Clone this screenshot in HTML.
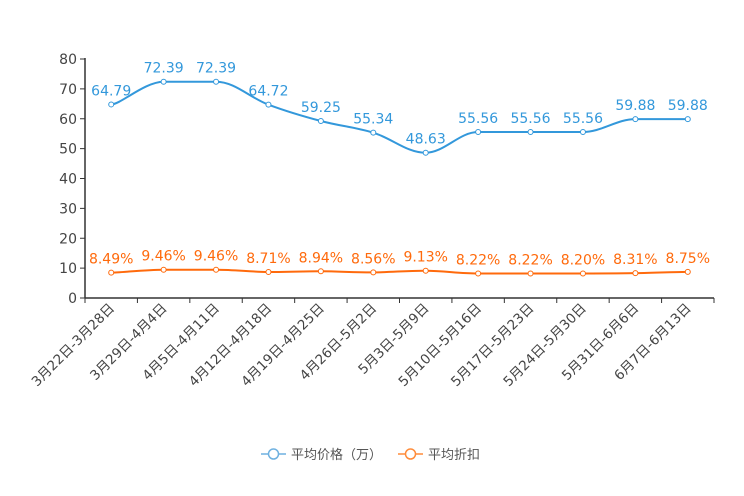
<!DOCTYPE html>
<html><head><meta charset="utf-8"><style>
html,body{margin:0;padding:0;background:#fff;}
svg{display:block;font-family:"DejaVu Sans","Noto Sans CJK SC",sans-serif;}
</style></head><body>
<svg id="chart" width="744" height="496" viewBox="0 0 744 496"></svg>
<script>
const categories=["3月22日-3月28日","3月29日-4月4日","4月5日-4月11日","4月12日-4月18日","4月19日-4月25日","4月26日-5月2日","5月3日-5月9日","5月10日-5月16日","5月17日-5月23日","5月24日-5月30日","5月31日-6月6日","6月7日-6月13日"];
const priceValues=[64.79,72.39,72.39,64.72,59.25,55.34,48.63,55.56,55.56,55.56,59.88,59.88];
const discountValues=[8.49,9.46,9.46,8.71,8.94,8.56,9.13,8.22,8.22,8.20,8.31,8.75];
const discountLabels=["8.49%","9.46%","9.46%","8.71%","8.94%","8.56%","9.13%","8.22%","8.22%","8.20%","8.31%","8.75%"];
const yTicks=[0,10,20,30,40,50,60,70,80];

const svg=document.getElementById('chart');
const NS='http://www.w3.org/2000/svg';
const L=85,R=714,T=59,B=298,yMax=80;
const bw=(R-L)/categories.length;
const x=i=>L+bw*(i+0.5);
const y=v=>B-(v/yMax)*(B-T);
function mk(tag,attrs,parent){const e=document.createElementNS(NS,tag);for(const k in attrs)e.setAttribute(k,attrs[k]);(parent||svg).appendChild(e);return e;}

const yAxis=mk('g',{});


mk('line',{x1:L,y1:T-1,x2:L,y2:B,stroke:'#333','stroke-width':1.5},yAxis);
yTicks.forEach(v=>{
  mk('line',{x1:L-5,y1:y(v),x2:L,y2:y(v),stroke:'#333'},yAxis);
  const t=mk('text',{x:L-8,y:y(v)+5,'text-anchor':'end','font-size':14,fill:'#444'},yAxis);
  t.textContent=v;
  
  
});
const xAxis=mk('g',{});


mk('line',{x1:L,y1:B,x2:R,y2:B,stroke:'#333','stroke-width':1.5},xAxis);
for(let i=0;i<=categories.length;i++){mk('line',{x1:L+bw*i,y1:B,x2:L+bw*i,y2:B+5,stroke:'#333'},xAxis);}
categories.forEach((c,i)=>{
  const t=mk('text',{x:x(i)+4,y:B+11,'text-anchor':'end','font-size':13.5,fill:'#444',transform:`rotate(-45 ${x(i)+4} ${B+11})`},xAxis);
  t.textContent=c;
  
  
});

function smooth(pts){
  let d=`M${pts[0][0]},${pts[0][1]}`;
  const k=0.18;
  for(let i=0;i<pts.length-1;i++){
    const p0=pts[i-1]||pts[i],p1=pts[i],p2=pts[i+1],p3=pts[i+2]||p2;
    let c1=[p1[0]+(p2[0]-p0[0])*k,p1[1]+(p2[1]-p0[1])*k];
    let c2=[p2[0]-(p3[0]-p1[0])*k,p2[1]-(p3[1]-p1[1])*k];
    if(p0[1]===p1[1]||p1[1]===p2[1])c1[1]=p1[1];
    if(p2[1]===p3[1]||p1[1]===p2[1])c2[1]=p2[1];
    d+=` C${c1[0]},${c1[1]} ${c2[0]},${c2[1]} ${p2[0]},${p2[1]}`;
  }
  return d;
}
function series(vals,labels,color,name){
  const g=mk('g',{});
  
  
  const pts=vals.map((v,i)=>[x(i),y(v)]);
  mk('path',{d:smooth(pts),fill:'none',stroke:color,'stroke-width':2},g);
  pts.forEach((p,i)=>{
    const c=mk('circle',{cx:p[0],cy:p[1],r:2.5,fill:'#fff',stroke:color,'stroke-width':1},g);
    
    
    const t=mk('text',{x:p[0],y:p[1]-9,'text-anchor':'middle','font-size':14,fill:color},g);
    t.textContent=labels[i];
    
    
  });
}
series(priceValues,priceValues.map(v=>v.toFixed(2)),'#3398db','price-series');
series(discountValues,discountLabels,'#ff6a0c','discount-series');

function legendEntry(lx,color,label){
  const g=mk('g',{});
  
  
  mk('line',{x1:lx,y1:454,x2:lx+25,y2:454,stroke:color,'stroke-width':1.5},g);
  mk('circle',{cx:lx+12.5,cy:454,r:5,fill:'#fff',stroke:color,'stroke-width':1.5},g);
  const t=mk('text',{x:lx+30,y:459,'font-size':13,fill:'#555'},g);
  t.textContent=label;
}
legendEntry(261,'#6fb1e0','平均价格（万）');
legendEntry(398,'#ff8c3a','平均折扣');
</script>
</body></html>
